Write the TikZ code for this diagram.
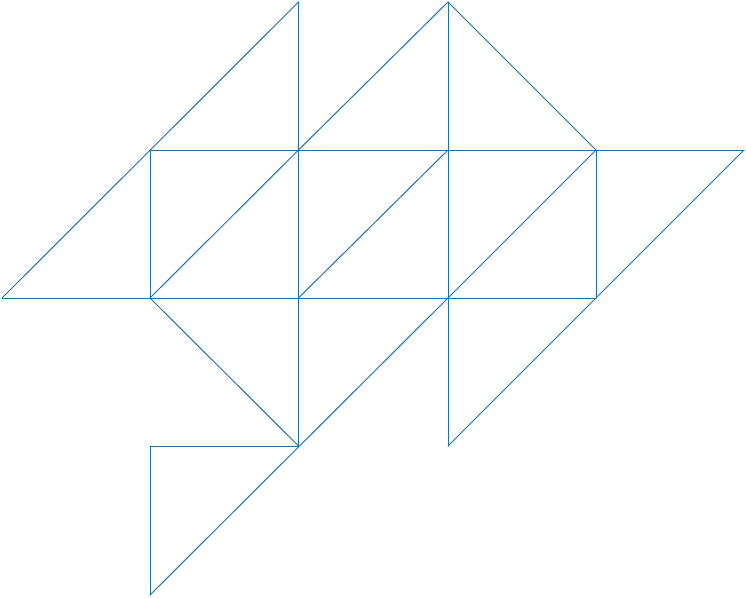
\documentclass[tikz,border=0pt]{standalone}
\definecolor{linecol}{HTML}{1F6FA8}
\begin{document}
\begin{tikzpicture}[x=1pt,y=-1pt,edge/.style={draw=linecol,line width=1pt,line cap=round,line join=round}]
\useasboundingbox (0,0) rectangle (746,597);
% grid points: columns a..f, rows 0..4
\foreach \n/\x in {a/2,b/150,c/298.5,d/448,e/596,f/744}{
  \foreach \r/\y in {0/2,1/150,2/298,3/446,4/595}{
    \coordinate (\n\r) at (\x,\y);
  }
}
% horizontals
\draw[edge] (b1) -- (f1);
\draw[edge] (a2) -- (e2);
\draw[edge] (b3) -- (c3);
% verticals
\draw[edge] (b1) -- (b2);
\draw[edge] (c0) -- (c3);
\draw[edge] (d0) -- (d3);
\draw[edge] (e1) -- (e2);
\draw[edge] (b3) -- (b4);
% diagonals
\draw[edge] (a2) -- (c0);
\draw[edge] (b2) -- (c1);
\draw[edge] (c1) -- (d0) -- (e1);
\draw[edge] (c2) -- (d1);
\draw[edge] (d2) -- (e1);
\draw[edge] (f1) -- (d3);
\draw[edge] (b2) -- (c3);
\draw[edge] (d2) -- (b4);
\end{tikzpicture}
\end{document}
